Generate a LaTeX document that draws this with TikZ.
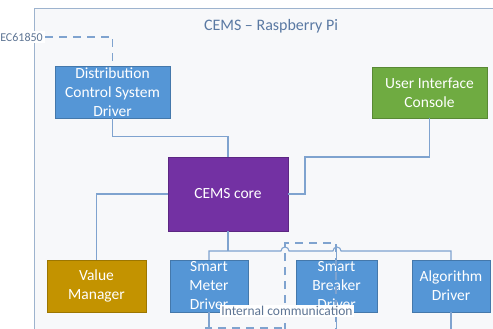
\documentclass[tikz,border=0pt]{standalone}
\usepackage{fontspec}
\setmainfont{Carlito}
\definecolor{frameC}{HTML}{9DB3CE}
\definecolor{connC}{HTML}{7FA3CF}
\definecolor{blueC}{HTML}{5596D6}
\definecolor{greenC}{HTML}{6FAB41}
\definecolor{purpleC}{HTML}{7331A3}
\definecolor{goldC}{HTML}{C39300}
\definecolor{titleC}{HTML}{5A79A3}
\definecolor{lblC}{HTML}{5E7594}
\definecolor{bgC}{HTML}{F7F8FA}
\tikzset{
  box/.style={rectangle, draw=#1!80!black, line width=0.4pt, fill=#1, text=white,
    align=center, inner sep=1pt, font=\fontsize{15.5}{19}\selectfont},
  conn/.style={draw=connC, line width=1.1pt},
  dconn/.style={draw=connC, line width=1.1pt, dash pattern=on 8pt off 6pt},
}
\begin{document}
\begin{tikzpicture}[x=1pt,y=-1pt]
\useasboundingbox (0,0) rectangle (493,329);
\clip (0,0) rectangle (493,329);
\fill[white] (0,0) rectangle (493,329);
\draw[frameC, line width=1pt, fill=bgC] (34,9) rectangle (520,360);
\node[text=titleC, font=\fontsize{16}{18}\selectfont] (title) at (271,26) {CEMS – Raspberry Pi};

\node[box=blueC, minimum width=115pt, minimum height=52pt] (dist) at (112.5,92) {Distribution\\Control System\\Driver};
\node[box=greenC, minimum width=115pt, minimum height=51pt] (ui) at (429.5,92.5) {User Interface\\Console};
\node[box=purpleC, minimum width=120pt, minimum height=74pt] (core) at (228,194) {CEMS core};
\node[box=goldC, minimum width=99pt, minimum height=52pt] (value) at (96.5,286) {Value\\Manager};
\node[box=blueC, minimum width=78pt, minimum height=52pt] (meter) at (209,286) {Smart\\Meter\\Driver};
\node[box=blueC, minimum width=81pt, minimum height=52pt] (breaker) at (336.5,286) {Smart\\Breaker\\Driver};
\node[box=blueC, minimum width=78pt, minimum height=52pt] (alg) at (451,286) {Algorithm\\Driver};

\node[fill=white, text=lblC, inner sep=2pt, anchor=east, font=\fontsize{12}{14}\selectfont] (iec) at (45,37) {IEC61850};
\draw[dconn] (iec.east) -| (dist.north);

% connectors
\draw[conn] (dist.south) -- ++(0,18) -| (core.north);
\coordinate (uk) at (305,157);
\draw[conn] (ui.south) |- (uk) |- (core.east);
\draw[conn] (core.west) -| (value.north);
\coordinate (bus) at (228,251);
\draw[conn] (core.south) -- (bus);
\draw[conn] (meter.north) |- (281,251) arc[start angle=180, end angle=0, radius=4pt]
  -- (333,251) arc[start angle=180, end angle=0, radius=4pt] -| (alg.north);
\draw[conn] (breaker.north) -- (336.5,251);
\draw[conn] (meter.south) -- ++(0,30);
\draw[conn] (breaker.south) -- ++(0,30);
\draw[conn] (alg.south) -- ++(0,30);

% internal communication dashed region
\draw[dconn] (285,345) -- (285,243) -- (336,243) -- (336,345);
\draw[dconn] (282,328) -- (205,328);
\node[fill=white, text=lblC, inner sep=1pt, font=\fontsize{13.5}{15}\selectfont] (ic) at (287,311) {Internal communication};
\end{tikzpicture}
\end{document}
